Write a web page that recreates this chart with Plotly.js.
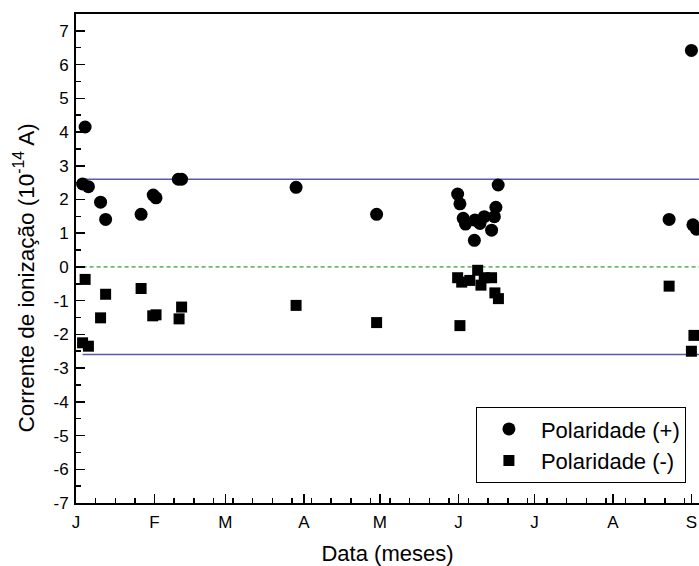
<!DOCTYPE html>
<html>
<head>
<meta charset="utf-8">
<script src="https://cdn.plot.ly/plotly-3.0.1.min.js"></script>
<style>html,body{margin:0;padding:0;background:#fff;}#chart{width:699px;height:566px;}</style>
</head>
<body>
<div id="chart"></div>
<script>
// Days counted from 1 January
const monthTickDays = [0, 31, 59, 90, 120, 151, 181, 212, 243];
const monthTickLabels = ['J', 'F', 'M', 'A', 'M', 'J', 'J', 'A', 'S'];

const yTickVals = [-7, -6, -5, -4, -3, -2, -1, 0, 1, 2, 3, 4, 5, 6, 7];
const yTickLabels = ['-7', '-6', '-5', '-4', '-3', '-2', '-1', '0', '1', '2', '3', '4', '5', '6', '7'];

const posDays = [2.6, 3.6, 4.9, 9.7, 11.7, 25.7, 30.5, 31.6, 40.4, 41.7, 86.9, 118.7,
  150.7, 151.6, 152.9, 153.8, 157.3, 157.5, 159.5, 161.2, 164.1, 165.2, 165.8, 166.7,
  234.2, 243.0, 243.6, 245.0];
const posVals = [2.46, 4.15, 2.38, 1.92, 1.41, 1.56, 2.13, 2.05, 2.60, 2.60, 2.36, 1.56,
  2.16, 1.87, 1.44, 1.27, 0.79, 1.39, 1.29, 1.49, 1.09, 1.49, 1.77, 2.43,
  1.41, 6.42, 1.25, 1.12];

const negDays = [2.6, 3.6, 4.9, 9.7, 11.7, 25.7, 30.3, 31.6, 40.7, 41.7, 86.9, 118.7,
  150.7, 151.6, 152.3, 155.5, 158.6, 159.9, 161.2, 164.1, 165.4, 166.8,
  234.2, 243.0, 244.0];
const negVals = [-2.25, -0.37, -2.35, -1.51, -0.81, -0.64, -1.45, -1.42, -1.54, -1.19, -1.14, -1.65,
  -0.32, -1.74, -0.45, -0.40, -0.10, -0.54, -0.32, -0.32, -0.77, -0.94,
  -0.57, -2.50, -2.03];

const refDays = [2.6, 250];
const upperLimit = [2.6, 2.6];
const lowerLimit = [-2.6, -2.6];
const zeroLine = [0, 0];

const yTitle = 'Corrente de ionização (10<sup>-14</sup> A)';
const xTitle = 'Data (meses)';

const FONT = 'Liberation Sans, Arial, Helvetica, sans-serif';

const traces = [
  {x: refDays, y: zeroLine, mode: 'lines', showlegend: false, hoverinfo: 'skip',
   line: {color: '#008000', width: 1, dash: '4px,3px'}},
  {x: refDays, y: upperLimit, mode: 'lines', showlegend: false, hoverinfo: 'skip',
   line: {color: '#5a5aad', width: 1.5}},
  {x: refDays, y: lowerLimit, mode: 'lines', showlegend: false, hoverinfo: 'skip',
   line: {color: '#5a5aad', width: 1.5}},
  {x: posDays, y: posVals, mode: 'markers', name: 'Polaridade (+)',
   marker: {symbol: 'circle', size: 13, color: '#000'}},
  {x: negDays, y: negVals, mode: 'markers', name: 'Polaridade (-)',
   marker: {symbol: 'square', size: 11, color: '#000'}}
];

const layout = {
  width: 699, height: 566,
  margin: {l: 76, r: 0, t: 14, b: 63, pad: 0},
  paper_bgcolor: '#fff', plot_bgcolor: '#fff',
  font: {family: FONT, color: '#000', size: 17},
  showlegend: true,
  legend: {
    x: 0.979, y: 0.196, xanchor: 'right', yanchor: 'top',
    bgcolor: '#fff', bordercolor: '#000', borderwidth: 1,
    font: {family: FONT, size: 22, color: '#000'},
    itemwidth: 54, tracegroupgap: 0
  },
  xaxis: {
    range: [0, 246], showgrid: false, zeroline: false,
    showline: true, linecolor: '#000', linewidth: 2, mirror: true,
    tickmode: 'array', tickvals: monthTickDays, ticktext: monthTickLabels,
    ticks: 'inside', ticklen: 9, tickwidth: 1.5, tickcolor: '#000',
    minor: {tickmode: 'linear', tick0: 0, dtick: 7.75, ticks: 'inside', ticklen: 5, tickwidth: 1.5, tickcolor: '#000', showgrid: false},
    tickfont: {family: FONT, size: 17}, ticklabelstandoff: 3,
    title: {text: xTitle, font: {family: FONT, size: 22}, standoff: 20}
  },
  yaxis: {
    range: [-7, 7.5], showgrid: false, zeroline: false,
    showline: true, linecolor: '#000', linewidth: 2, mirror: false,
    tickmode: 'array', tickvals: yTickVals, ticktext: yTickLabels,
    ticks: 'inside', ticklen: 9, tickwidth: 1.5, tickcolor: '#000',
    minor: {tickmode: 'linear', tick0: 0.5, dtick: 1, ticks: 'inside', ticklen: 5, tickwidth: 1.5, tickcolor: '#000', showgrid: false},
    tickfont: {family: FONT, size: 17}, ticklabelstandoff: 2
  },
  annotations: [{
    text: yTitle, xref: 'paper', yref: 'paper', x: -0.0835, y: 0.461,
    xanchor: 'center', yanchor: 'middle', textangle: -90, showarrow: false,
    font: {family: FONT, size: 22.5, color: '#000'}
  }]
};

Plotly.newPlot('chart', traces, layout, {displayModeBar: false, staticPlot: true});
</script>
</body>
</html>
